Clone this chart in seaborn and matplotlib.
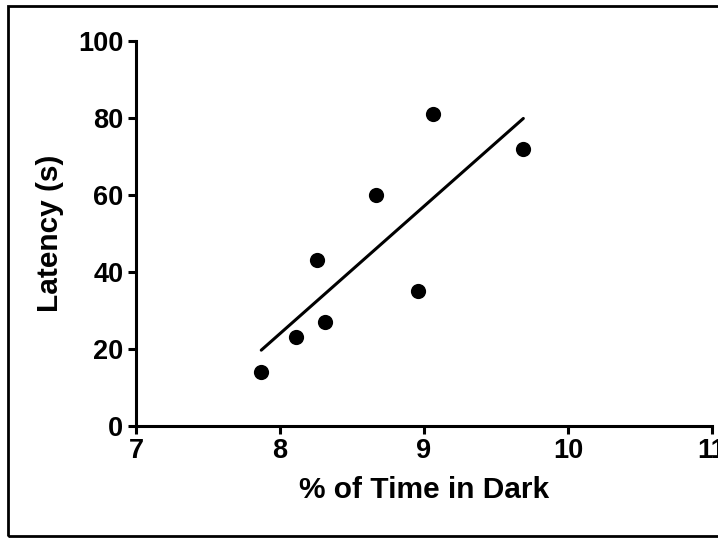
import pandas as pd
import matplotlib.pyplot as plt
import seaborn as sns
from matplotlib.patches import Rectangle

# values
time_in_dark = [7.87, 8.11, 8.26, 8.31, 8.67, 8.96, 9.06, 9.69]
latency = [14, 23, 43, 27, 60, 35, 81, 72]

df = pd.DataFrame({"% of Time in Dark": time_in_dark, "Latency (s)": latency})

sns.set_style("ticks", {"axes.edgecolor": "black", "text.color": "black",
                        "axes.labelcolor": "black", "xtick.color": "black",
                        "ytick.color": "black"})
plt.rcParams["font.family"] = ["Liberation Sans", "DejaVu Sans"]
plt.rcParams["font.weight"] = "bold"

fig = plt.figure(figsize=(7.18, 5.38), dpi=100)
ax = fig.add_axes([0.1894, 0.2082, 0.8022, 0.7156])

sns.regplot(
    data=df,
    x="% of Time in Dark",
    y="Latency (s)",
    ci=None,
    color="black",
    scatter_kws={"s": 120, "linewidths": 0, "alpha": 1},
    line_kws={"linewidth": 2.2},
    ax=ax,
)

ax.set_xlim(7, 11)
ax.set_ylim(0, 100)
ax.set_xticks([7, 8, 9, 10, 11])
ax.set_yticks([0, 20, 40, 60, 80, 100])
sns.despine(ax=ax)
for s in ["left", "bottom"]:
    ax.spines[s].set_linewidth(2.2)
    ax.spines[s].set_color("black")
ax.tick_params(width=2.2, length=6, labelsize=19.5, pad=3, colors="black")
for lbl in ax.get_xticklabels() + ax.get_yticklabels():
    lbl.set_fontweight("bold")
ax.set_xlabel("% of Time in Dark", fontsize=21.5, fontweight="bold", labelpad=8)
ax.set_ylabel("Latency (s)", fontsize=21.5, fontweight="bold", labelpad=10)

# outer frame
fig.patches.append(Rectangle((8 / 718, 2 / 538), 1.2, 1 - 8 / 538,
                             transform=fig.transFigure, fill=False,
                             edgecolor="black", linewidth=2, clip_on=False))

fig.savefig("out.png", dpi=100)
